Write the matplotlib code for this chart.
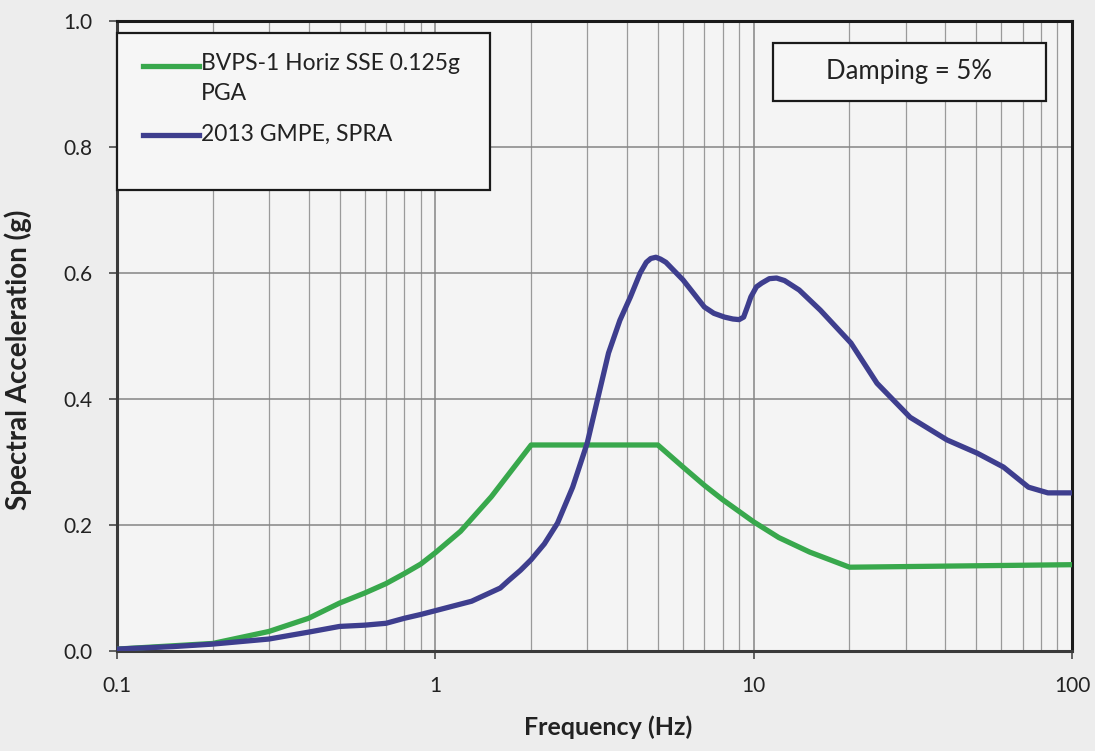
import matplotlib
matplotlib.use("Agg")
import matplotlib.pyplot as plt
from matplotlib.ticker import LogLocator, NullFormatter, FixedLocator
from matplotlib.lines import Line2D
from matplotlib.patches import Rectangle

plt.rcParams['font.family'] = ['Lato', 'DejaVu Sans']

# Data
freq_sse = [0.1, 0.2, 0.3, 0.4, 0.5, 0.6, 0.7, 0.8, 0.9, 1.0, 1.2, 1.5, 2.0, 5.0,
            6.0, 7.0, 8.0, 10.0, 12.0, 15.0, 20.0, 100.0]
sa_sse = [0.003, 0.012, 0.031, 0.052, 0.076, 0.092, 0.107, 0.123, 0.138, 0.156,
          0.190, 0.245, 0.327, 0.327, 0.292, 0.263, 0.240, 0.205, 0.180, 0.157,
          0.133, 0.137]

freq_gmpe = [0.1, 0.15, 0.2, 0.3, 0.4, 0.5, 0.6, 0.7, 0.8, 0.9, 1.0, 1.3, 1.6,
             1.7, 1.85, 2.0, 2.2, 2.42, 2.7, 3.0, 3.2, 3.5, 3.8, 4.1, 4.4, 4.6,
             4.75, 4.93, 5.1, 5.3, 6.0, 7.0, 7.5, 8.1, 8.6, 9.0, 9.3, 9.6, 9.8,
             10.2, 10.6, 11.2, 11.8, 12.5, 13.9, 16.2, 20.2, 24.4, 31.0, 40.5,
             50.4, 60.9, 73.0, 84.0, 100.0]
sa_gmpe = [0.003, 0.007, 0.011, 0.019, 0.030, 0.039, 0.041, 0.044, 0.052, 0.058,
           0.064, 0.079, 0.100, 0.112, 0.128, 0.145, 0.170, 0.203, 0.260, 0.330,
           0.390, 0.473, 0.525, 0.562, 0.600, 0.617, 0.623, 0.625, 0.622, 0.617,
           0.589, 0.546, 0.536, 0.530, 0.527, 0.526, 0.530, 0.549, 0.562, 0.578,
           0.584, 0.591, 0.592, 0.588, 0.573, 0.541, 0.489, 0.425, 0.371, 0.335,
           0.314, 0.292, 0.260, 0.251, 0.251]

x_ticks = [0.1, 1, 10, 100]
x_tick_labels = ["0.1", "1", "10", "100"]
y_ticks = [0.0, 0.2, 0.4, 0.6, 0.8, 1.0]
y_tick_labels = ["0.0", "0.2", "0.4", "0.6", "0.8", "1.0"]

label_sse = "BVPS-1 Horiz SSE 0.125g"
label_sse2 = "PGA"
label_gmpe = "2013 GMPE, SPRA"
note_text = "Damping = 5%"

green = '#38a84c'
blue = '#3e3e8e'
ink = '#222222'

W, H = 1095, 751
fig = plt.figure(figsize=(W / 100, H / 100), dpi=100, facecolor='#ededed')
ax = fig.add_axes([117 / W, (H - 651) / H, (1072 - 117) / W, (651 - 21) / H])
ax.set_facecolor('#f4f4f4')


def fx(px):
    return px / W


def fy(py):
    return (H - py) / H


ax.set_xscale('log')
ax.set_xlim(0.1, 100)
ax.set_ylim(0, 1.0)

ax.xaxis.set_major_locator(FixedLocator(x_ticks))
ax.set_xticklabels(x_tick_labels)
ax.xaxis.set_minor_locator(LogLocator(base=10, subs=range(2, 10)))
ax.xaxis.set_minor_formatter(NullFormatter())
ax.set_yticks(y_ticks)
ax.set_yticklabels(y_tick_labels)

ax.grid(True, which='major', axis='both', color='#858585', linewidth=1.1)
ax.grid(True, which='minor', axis='x', color='#9a9a9a', linewidth=0.9)
ax.set_axisbelow(True)

ax.tick_params(axis='both', which='major', direction='out', length=6, width=1.3,
               labelsize=15, colors='#555555', labelcolor=ink)
ax.tick_params(axis='x', which='major', pad=12)
ax.tick_params(axis='y', which='major', pad=12)
ax.tick_params(axis='x', which='minor', length=0)

for name, s in ax.spines.items():
    s.set_linewidth(2.2)
    s.set_color('#1a1a1a' if name in ('top', 'right') else '#3a3a3a')

ax.plot(freq_sse, sa_sse, color=green, linewidth=3.8, solid_joinstyle='round',
        solid_capstyle='round', zorder=3)
ax.plot(freq_gmpe, sa_gmpe, color=blue, linewidth=3.8, solid_joinstyle='round',
        solid_capstyle='round', zorder=4)

xl = ax.set_xlabel("Frequency (Hz)", fontsize=18, fontweight='bold', color=ink)
xl.set_va('center')
ax.xaxis.set_label_coords((608 - 117) / 955, -(727 - 651) / 630)
yl = ax.set_ylabel("Spectral Acceleration (g)", fontsize=20, fontweight='bold',
                   color=ink)
yl.set_va('center')
yl.set_ha('center')
ax.yaxis.set_label_coords((18 - 117) / 955, (651 - 360) / 630)

# Legend box (drawn manually to mimic the layout)
fig.patches.append(Rectangle((fx(117), fy(190)), fx(490) - fx(117), fy(33) - fy(190),
                             transform=fig.transFigure, facecolor='#f6f6f6',
                             edgecolor='#1a1a1a', linewidth=1.6, zorder=5))
fig.add_artist(Line2D([fx(143), fx(199)], [fy(66), fy(66)], color=green,
                      linewidth=3.8, transform=fig.transFigure, zorder=6))
fig.add_artist(Line2D([fx(143), fx(199)], [fy(135), fy(135)], color=blue,
                      linewidth=3.8, transform=fig.transFigure, zorder=6))
fig.text(fx(201), fy(63), label_sse, fontsize=16.5, color=ink, ha='left',
         va='center', zorder=7)
fig.text(fx(201), fy(93), label_sse2, fontsize=16.5, color=ink, ha='left',
         va='center', zorder=7)
fig.text(fx(201), fy(134), label_gmpe, fontsize=16.5, color=ink, ha='left',
         va='center', zorder=7)

# Damping note box
fig.patches.append(Rectangle((fx(773), fy(101)), fx(1046) - fx(773), fy(43) - fy(101),
                             transform=fig.transFigure, facecolor='#f6f6f6',
                             edgecolor='#1a1a1a', linewidth=1.6, zorder=5))
fig.text(fx(909), fy(72), note_text, fontsize=18.5, color=ink, ha='center',
         va='center', zorder=7)

fig.savefig('out.png', dpi=100, facecolor=fig.get_facecolor())
